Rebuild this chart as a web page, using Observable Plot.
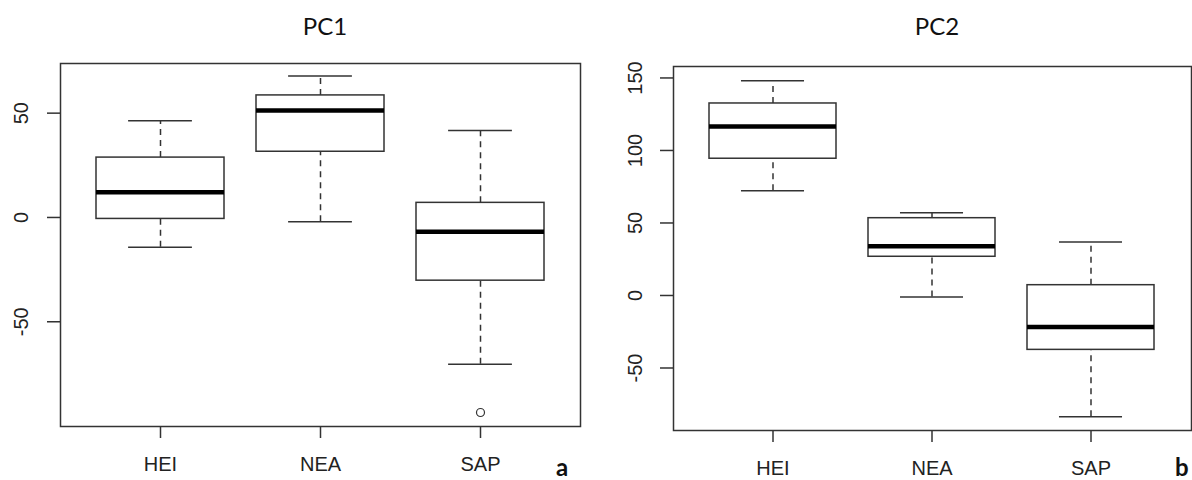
<!DOCTYPE html>
<html>
<head>
<meta charset="utf-8">
<script src="https://cdn.jsdelivr.net/npm/d3@7"></script>
<script src="https://cdn.jsdelivr.net/npm/@observablehq/plot@0.6"></script>
<style>
  body { margin: 0; background: #fff; }
  #wrap { position: relative; width: 1192px; height: 480px; overflow: hidden; background: #fff; }
  .panel { position: absolute; top: 0; }
  #overlay { position: absolute; left: 0; top: 0; pointer-events: none; }
</style>
</head>
<body>
<div id="wrap"></div>
<script>
// ---- data ----
const groups = ["HEI", "NEA", "SAP"];

// PC1
const pc1Min    = [-14.3, -2.1, -70.4];
const pc1Q1     = [-0.7, 31.5, -30.3];
const pc1Median = [12.1, 51.3, -6.8];
const pc1Q3     = [28.7, 58.5, 7.0];
const pc1Max    = [46.4, 67.8, 41.7];
const pc1OutlierGroups = ["SAP"];
const pc1OutlierValues = [-93.5];
const pc1Ticks = [-50, 0, 50];

// PC2
const pc2Min    = [72.2, -1.1, -83.7];
const pc2Q1     = [94.3, 26.7, -37.5];
const pc2Median = [116.6, 34.0, -21.8];
const pc2Q3     = [132.4, 53.3, 7.1];
const pc2Max    = [148.0, 57.0, 36.8];
const pc2OutlierGroups = [];
const pc2OutlierValues = [];
const pc2Ticks = [-50, 0, 50, 100, 150];

const titles = ["PC1", "PC2"];
const tags = ["a", "b"];

// ---- drawing ----
const ink = "#333";
const font = "'Liberation Sans', Arial, sans-serif";

function panel({min, q1, med, q3, max, outG, outV, ticks, domain, left, width, mL, mR, mT, mB, labelDx}) {
  const rows = groups.map((g, i) => ({group: g, min: min[i], q1: q1[i], med: med[i], q3: q3[i], max: max[i]}));
  const outliers = outG.map((g, i) => ({group: g, value: outV[i]}));
  const innerW = width - mL - mR;
  const cap = innerW / 3.24 * 0.8 / 4;
  const svg = Plot.plot({
    width, height: 480,
    marginLeft: mL, marginRight: mR, marginTop: mT, marginBottom: mB,
    style: {fontFamily: font, fontSize: "20px", color: "#222", background: "transparent", overflow: "visible"},
    x: {type: "band", domain: groups, paddingInner: 0.2, paddingOuter: 0.22, align: 0.5, label: null},
    y: {domain, label: null},
    marks: [
      Plot.ruleX(rows, {x: "group", y1: "q3", y2: "max", stroke: ink, strokeWidth: 1.5, strokeDasharray: "6,5"}),
      Plot.ruleX(rows, {x: "group", y1: "min", y2: "q1", stroke: ink, strokeWidth: 1.5, strokeDasharray: "6,5"}),
      Plot.tickY(rows, {x: "group", y: "max", stroke: ink, strokeWidth: 1.5, insetLeft: cap, insetRight: cap}),
      Plot.tickY(rows, {x: "group", y: "min", stroke: ink, strokeWidth: 1.5, insetLeft: cap, insetRight: cap}),
      Plot.barY(rows, {x: "group", y1: "q1", y2: "q3", fill: "white", stroke: ink, strokeWidth: 1.5}),
      Plot.tickY(rows, {x: "group", y: "med", stroke: "#000", strokeWidth: 4.5}),
      Plot.dot(outliers, {x: "group", y: "value", r: 4, stroke: ink, strokeWidth: 1.2, fill: "white"}),
      Plot.axisY(ticks, {tickSize: 13, fill: "none", stroke: ink, strokeWidth: 1.5}),
      Plot.text(ticks, {y: d => d, text: d => String(d), frameAnchor: "left", rotate: -90, dx: labelDx, lineAnchor: "middle", textAnchor: "middle", fontSize: 20, fill: "#222"}),
      Plot.axisX({tickSize: 12, tickPadding: 18, stroke: ink, strokeWidth: 1.5, fill: "#222", fontSize: 20, label: null}),
      Plot.frame({stroke: ink, strokeWidth: 1.5})
    ]
  });
  svg.classList.add("panel");
  svg.style.left = left + "px";
  return svg;
}

const wrap = document.getElementById("wrap");
wrap.appendChild(panel({min: pc1Min, q1: pc1Q1, med: pc1Median, q3: pc1Q3, max: pc1Max,
  outG: pc1OutlierGroups, outV: pc1OutlierValues, ticks: pc1Ticks, domain: [-100.2, 73.8],
  left: 0, width: 596, mL: 60, mR: 16, mT: 63, mB: 54, labelDx: -39}));
wrap.appendChild(panel({min: pc2Min, q1: pc2Q1, med: pc2Median, q3: pc2Q3, max: pc2Max,
  outG: pc2OutlierGroups, outV: pc2OutlierValues, ticks: pc2Ticks, domain: [-93.1, 157.9],
  left: 596, width: 596, mL: 77, mR: 1, mT: 66, mB: 50, labelDx: -38}));

// titles and panel letters
const ns = "http://www.w3.org/2000/svg";
const ov = document.createElementNS(ns, "svg");
ov.setAttribute("id", "overlay");
ov.setAttribute("width", 1192);
ov.setAttribute("height", 480);
function addText(str, x, y, weight, anchor) {
  const t = document.createElementNS(ns, "text");
  t.setAttribute("x", x); t.setAttribute("y", y);
  t.setAttribute("text-anchor", anchor);
  t.setAttribute("font-family", "Lato, 'Open Sans', sans-serif");
  t.setAttribute("font-size", 24);
  t.setAttribute("font-weight", weight);
  t.setAttribute("fill", "#111");
  t.textContent = str;
  ov.appendChild(t);
}
addText(titles[0], 325, 35, "normal", "middle");
addText(titles[1], 937, 35, "normal", "middle");
addText(tags[0], 556, 476, "bold", "start");
addText(tags[1], 1175, 476, "bold", "start");
wrap.appendChild(ov);
</script>
</body>
</html>
